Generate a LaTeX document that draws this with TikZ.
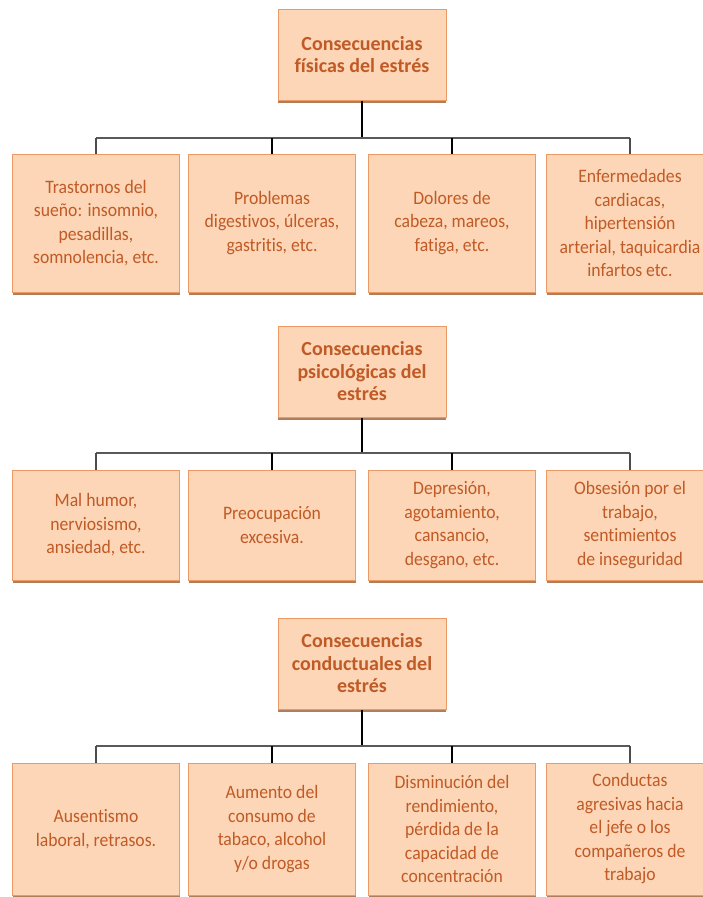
\documentclass[tikz,border=0pt]{standalone}
\usepackage{fontspec}
\newfontfamily\bodyfont[FakeStretch=0.93,Ligatures=NoCommon]{Carlito}
\newfontfamily\headfont[Ligatures=NoCommon]{Carlito}
\usetikzlibrary{shadows}
\definecolor{peach}{HTML}{FCD6B6}
\definecolor{rim}{HTML}{EB9A66}
\definecolor{ink}{HTML}{C05A26}
\definecolor{rimshadow}{HTML}{A8704A}
\tikzset{
  head/.style={
    rectangle,
    draw=rim,
    fill=peach,
    line width=1pt,
    minimum width=168pt,
    minimum height=91pt,
    inner sep=0pt,
    align=center,
    text=ink,
    font=\headfont\bfseries\fontsize{20}{22.5}\selectfont,
    drop shadow={shadow xshift=0pt,shadow yshift=-3pt,fill=rimshadow,opacity=0.9}
  },
  item/.style={
    rectangle,
    draw=rim,
    fill=peach,
    line width=1pt,
    minimum width=167pt,
    inner sep=0pt,
    align=center,
    text=ink,
    font=\bodyfont\fontsize{19}{23.5}\selectfont,
    drop shadow={shadow xshift=0pt,shadow yshift=-3pt,fill=rimshadow,opacity=0.9}
  },
  bar/.style={draw=black!65,line width=1.6pt},
  drop/.style={draw=black,line width=2.6pt},
  sidedrop/.style={draw=black!70,line width=1.6pt}
}

\begin{document}
\begin{tikzpicture}[x=1pt,y=-1pt]
    \useasboundingbox (0,0) rectangle (702,897);

    % fisicas
    \node[head] (fis) at (362,54.5) {Consecuencias\\físicas del estrés};
    \node[item,minimum height=138pt] (fisA) at (96,223) {Trastornos del\\sueño: insomnio,\\pesadillas,\\somnolencia, etc.};
    \node[item,minimum height=138pt] (fisB) at (272,223) {Problemas\\digestivos, úlceras,\\gastritis, etc.};
    \node[item,minimum height=138pt] (fisC) at (452,223) {Dolores de\\cabeza, mareos,\\fatiga, etc.};
    \node[item,minimum height=138pt] (fisD) at (630,223) {Enfermedades\\cardiacas,\\hipertensión\\arterial, taquicardia\\infartos etc.};
    \coordinate (fisJ) at (362,138);
    \draw[drop] (fis) -- (fisJ);
    \draw[bar] (fisJ -| fisA) -- (fisJ -| fisD);
    \draw[sidedrop] (fisJ -| fisA) -- (fisA);
    \draw[drop] (fisJ -| fisB) -- (fisB);
    \draw[drop] (fisJ -| fisC) -- (fisC);
    \draw[sidedrop] (fisJ -| fisD) -- (fisD);

    % psicologicas
    \node[head] (psi) at (362,371.5) {Consecuencias\\psicológicas del\\estrés};
    \node[item,minimum height=110pt] (psiA) at (96,525) {Mal humor,\\nerviosismo,\\ansiedad, etc.};
    \node[item,minimum height=110pt] (psiB) at (272,525) {Preocupación\\excesiva.};
    \node[item,minimum height=110pt] (psiC) at (452,525) {Depresión,\\agotamiento,\\cansancio,\\desgano, etc.};
    \node[item,minimum height=110pt] (psiD) at (630,525) {Obsesión por el\\trabajo,\\sentimientos\\de inseguridad};
    \coordinate (psiJ) at (362,453);
    \draw[drop] (psi) -- (psiJ);
    \draw[bar] (psiJ -| psiA) -- (psiJ -| psiD);
    \draw[sidedrop] (psiJ -| psiA) -- (psiA);
    \draw[drop] (psiJ -| psiB) -- (psiB);
    \draw[drop] (psiJ -| psiC) -- (psiC);
    \draw[sidedrop] (psiJ -| psiD) -- (psiD);

    % conductuales
    \node[head] (con) at (362,663.5) {Consecuencias\\conductuales del\\estrés};
    \node[item,minimum height=132pt] (conA) at (96,829) {Ausentismo\\laboral, retrasos.};
    \node[item,minimum height=132pt] (conB) at (272,829) {Aumento del\\consumo de\\tabaco, alcohol\\y/o drogas};
    \node[item,minimum height=132pt] (conC) at (452,829) {Disminución del\\rendimiento,\\pérdida de la\\capacidad de\\concentración};
    \node[item,minimum height=132pt] (conD) at (630,829) {Conductas\\agresivas hacia\\el jefe o los\\compañeros de\\trabajo};
    \coordinate (conJ) at (362,746);
    \draw[drop] (con) -- (conJ);
    \draw[bar] (conJ -| conA) -- (conJ -| conD);
    \draw[sidedrop] (conJ -| conA) -- (conA);
    \draw[drop] (conJ -| conB) -- (conB);
    \draw[drop] (conJ -| conC) -- (conC);
    \draw[sidedrop] (conJ -| conD) -- (conD);
\end{tikzpicture}
\end{document}
